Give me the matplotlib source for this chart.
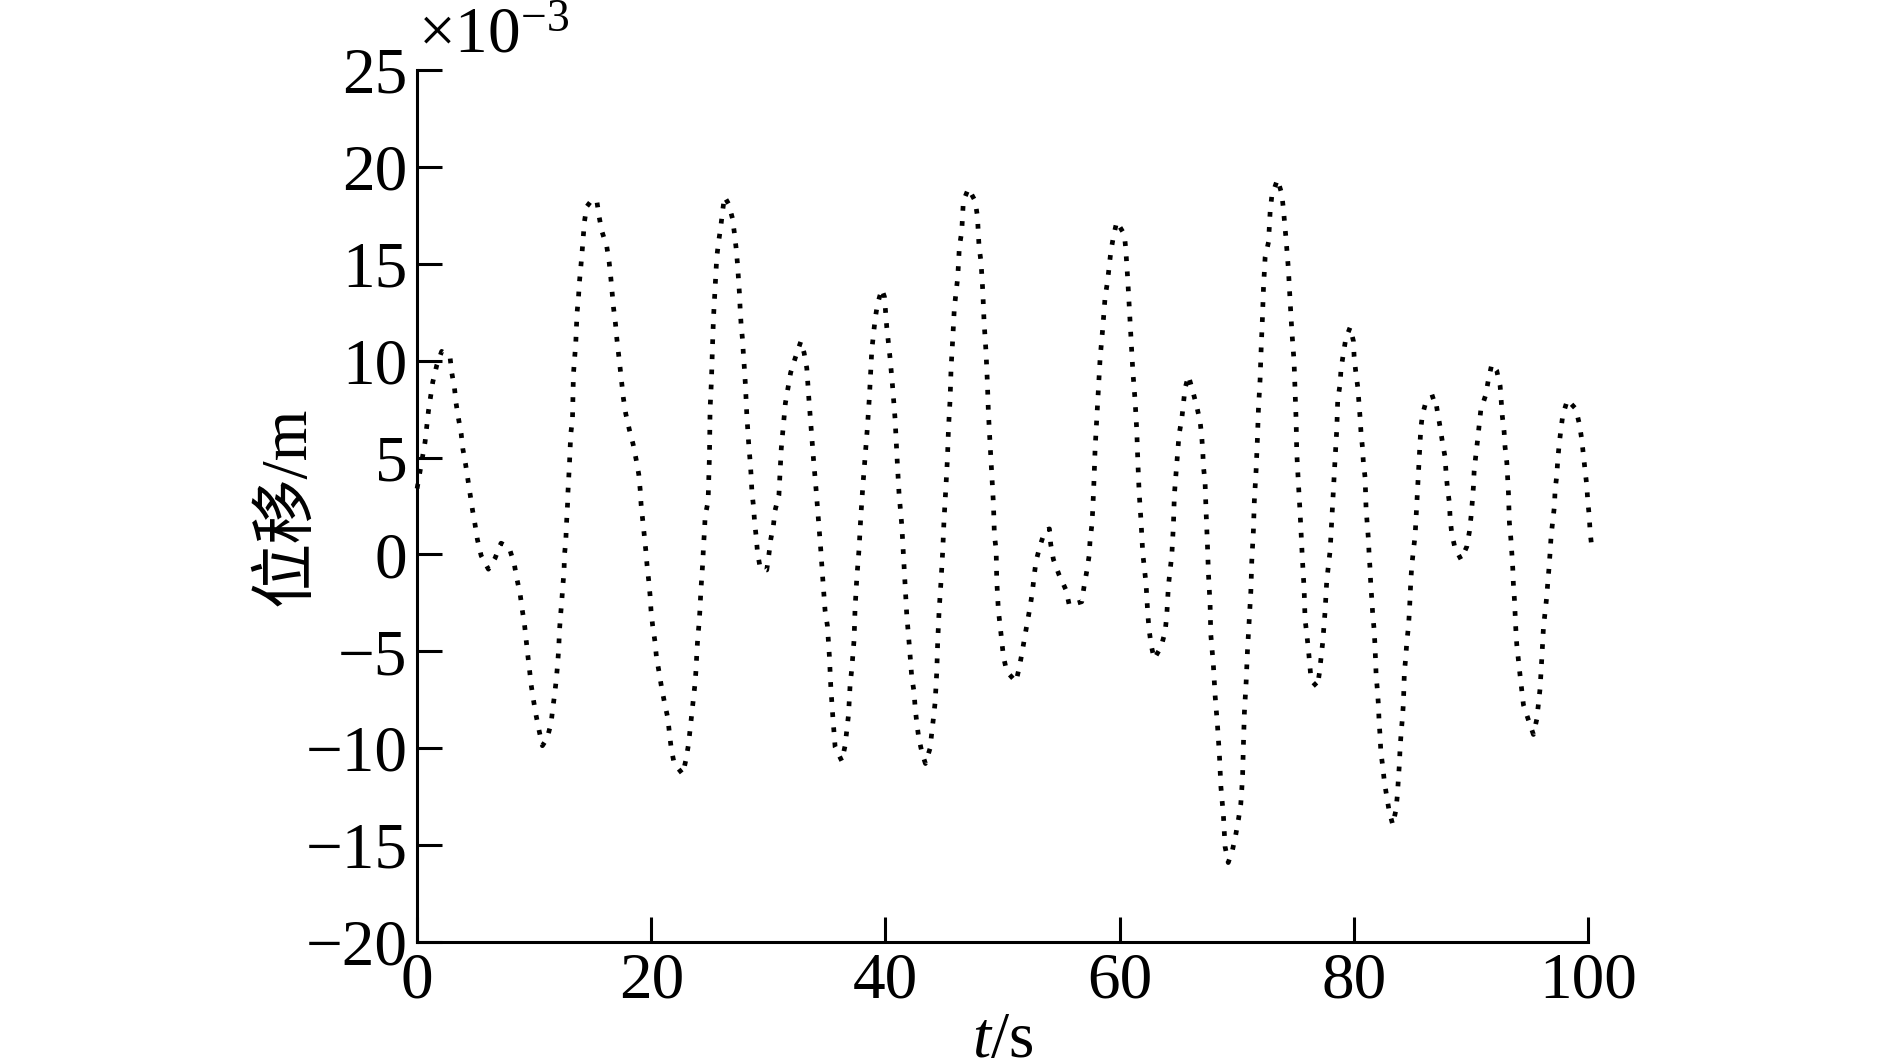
import numpy as np
import matplotlib
matplotlib.use("Agg")
import matplotlib.pyplot as plt

plt.rcParams['font.family'] = ['Liberation Serif', 'Noto Sans CJK SC']
plt.rcParams['mathtext.fontset'] = 'custom'
plt.rcParams['mathtext.rm'] = 'Liberation Serif'
plt.rcParams['mathtext.it'] = 'Liberation Serif:italic'
plt.rcParams['axes.unicode_minus'] = True

# 时间 t/s 与 位移 (x10^-3 m)
t = [0.0, 0.68, 0.97, 1.34, 1.68, 2.1, 2.82, 2.96, 3.19, 3.33, 3.53, 3.76, 3.9, 4.13, 4.33,
     4.53, 4.73, 4.95, 5.15, 5.47, 6.09, 6.66, 7.17, 7.86, 8.29, 8.51, 8.8, 8.97, 9.17, 9.31,
     9.45, 9.6, 9.74, 9.94, 10.16, 10.42, 10.7, 11.1, 11.44, 11.59, 11.76, 11.9, 12.01, 12.1,
     12.15, 12.24, 12.35, 12.44, 12.55, 12.58, 12.7, 12.75, 12.85, 12.87, 13.01, 13.12, 13.27,
     13.35, 13.55, 13.66, 13.78, 13.86, 13.98, 14.09, 14.29, 14.49, 14.91, 15.34, 15.54, 15.77,
     16.2, 16.4, 16.54, 16.77, 16.94, 17.05, 17.2, 17.34, 17.48, 17.62, 17.82, 18.11, 18.45,
     18.7, 18.93, 19.05, 19.13, 19.27, 19.4, 19.53, 19.64, 19.78, 19.9, 19.98, 20.12, 20.32,
     20.44, 20.67, 20.87, 21.13, 21.41, 21.55, 21.7, 21.95, 22.69, 22.98, 23.18, 23.32, 23.46,
     23.6, 23.74, 23.83, 23.89, 23.97, 24.09, 24.17, 24.23, 24.32, 24.4, 24.46, 24.54, 24.6,
     24.85, 24.97, 25.02, 25.14, 25.22, 25.31, 25.45, 25.59, 25.74, 25.93, 26.08, 26.25, 26.59,
     26.93, 27.1, 27.24, 27.36, 27.45, 27.53, 27.59, 27.67, 27.79, 27.87, 27.96, 28.04, 28.1,
     28.16, 28.24, 28.33, 28.44, 28.53, 28.59, 28.73, 28.82, 28.96, 29.07, 29.3, 29.86, 30.04,
     30.2, 30.43, 30.57, 30.9, 31.1, 31.45, 31.9, 32.3, 32.77, 33.05, 33.28, 33.45, 33.65,
     33.85, 34.07, 34.27, 34.47, 34.65, 34.84, 35.04, 35.21, 35.33, 35.5, 35.7, 36.27, 36.55,
     36.84, 36.98, 37.12, 37.32, 37.4, 37.55, 37.75, 37.89, 38.06, 38.26, 38.46, 38.63, 38.83,
     39.11, 39.31, 39.68, 39.91, 40.11, 40.39, 40.62, 40.82, 41.02, 41.16, 41.39, 41.53, 41.67,
     41.82, 42.04, 42.24, 42.44, 42.53, 42.67, 42.84, 43.13, 43.41, 43.81, 43.95, 44.1, 44.24,
     44.38, 44.46, 44.58, 44.75, 44.89, 45.0, 45.15, 45.29, 45.38, 45.52, 45.6, 45.75, 45.88,
     46.17, 46.31, 46.51, 46.65, 47.08, 47.65, 47.85, 47.99, 48.16, 48.31, 48.42, 48.59, 48.7,
     48.79, 48.93, 49.08, 49.22, 49.3, 49.45, 49.5, 49.64, 49.79, 49.93, 50.07, 50.36, 51.15,
     51.44, 51.67, 51.89, 52.12, 52.35, 52.55, 52.69, 52.86, 53.2, 53.63, 54.0, 54.11, 54.34,
     54.82, 55.42, 55.7, 56.76, 56.96, 57.19, 57.39, 57.47, 57.62, 57.7, 57.81, 57.9, 58.04,
     58.18, 58.33, 58.56, 58.75, 58.95, 59.1, 59.24, 59.46, 59.75, 60.4, 60.52, 60.69, 60.83,
     60.97, 61.12, 61.32, 61.46, 61.55, 61.66, 61.83, 61.97, 62.11, 62.25, 62.4, 62.51, 62.68,
     62.94, 63.53, 63.88, 64.02, 64.16, 64.3, 64.45, 64.59, 64.67, 64.87, 65.07, 65.3, 65.44,
     65.58, 65.87, 66.24, 66.58, 66.87, 67.01, 67.1, 67.15, 67.29, 67.38, 67.49, 67.58, 67.72,
     67.78, 68.0, 68.15, 68.35, 68.52, 68.64, 68.86, 69.0, 69.27, 69.63, 69.91, 70.14, 70.34,
     70.43, 70.5, 70.57, 70.65, 70.8, 70.91, 71.05, 71.2, 71.28, 71.42, 71.5, 71.65, 71.76,
     71.85, 71.99, 72.08, 72.19, 72.28, 72.42, 72.71, 72.85, 72.99, 73.47, 73.84, 73.98, 74.21,
     74.41, 74.55, 74.7, 74.89, 74.98, 75.07, 75.12, 75.26, 75.41, 75.6, 75.75, 75.83, 75.98,
     76.12, 76.35, 76.88, 77.06, 77.34, 77.54, 77.68, 77.82, 77.97, 78.11, 78.25, 78.39, 78.54,
     78.62, 78.82, 78.9, 79.1, 79.31, 79.68, 79.96, 80.02, 80.16, 80.33, 80.53, 80.61, 80.73,
     80.81, 80.96, 81.04, 81.24, 81.3, 81.38, 81.44, 81.53, 81.61, 81.73, 81.8, 81.9, 82.01,
     82.1, 82.15, 82.24, 82.3, 82.47, 82.61, 82.81, 83.01, 83.32, 83.6, 83.72, 83.8, 83.89,
     83.94, 84.03, 84.14, 84.23, 84.31, 84.43, 84.52, 84.66, 84.74, 84.8, 84.86, 84.94, 85.08,
     85.23, 85.37, 85.51, 85.65, 85.71, 85.85, 86.22, 86.93, 87.13, 87.36, 87.56, 87.79, 87.87,
     87.99, 88.16, 88.22, 88.36, 88.64, 89.15, 89.64, 89.87, 90.01, 90.12, 90.21, 90.27, 90.41,
     90.56, 90.7, 90.84, 91.27, 91.49, 91.78, 92.2, 92.49, 92.68, 92.83, 92.91, 93.06, 93.2,
     93.28, 93.4, 93.49, 93.57, 93.62, 93.71, 93.83, 93.91, 94.05, 94.19, 94.34, 94.48, 94.91,
     95.33, 95.62, 95.76, 95.9, 96.05, 96.19, 96.33, 96.47, 96.56, 96.67, 96.76, 96.84, 96.98,
     97.13, 97.18, 97.33, 97.41, 97.52, 97.67, 97.84, 98.24, 98.95, 99.26, 99.46, 99.6, 99.74,
     99.89, 99.97, 100.1, 100.17, 100.3]

disp = [3.4, 5.8, 7.4, 8.9, 9.76, 10.48, 10.15, 9.38, 8.6, 7.8, 7.03, 6.25, 5.47, 4.7, 3.9,
        3.1, 2.3, 1.54, 0.77, -0.06, -0.76, -0.19, 0.58, 0.35, -0.47, -1.22, -2.05, -2.82, -3.6,
        -4.39, -5.18, -5.95, -6.73, -7.52, -8.3, -9.09, -9.87, -9.5, -8.72, -7.93, -7.16, -6.37,
        -5.59, -4.8, -4.02, -3.23, -2.45, -1.66, -0.88, -0.06, 0.7, 1.47, 2.6, 3.07, 4.64, 6.2,
        6.98, 9.3, 10.9, 12.47, 13.24, 14.04, 14.82, 15.6, 17.17, 17.95, 18.28, 18.28, 17.45,
        16.7, 15.88, 15.09, 14.3, 12.75, 11.92, 11.18, 10.39, 9.61, 8.82, 8.05, 7.26, 6.48, 5.68,
        4.92, 4.13, 3.35, 2.57, 1.78, 1.0, 0.22, -0.57, -1.35, -2.14, -2.92, -3.7, -4.52, -5.3,
        -6.09, -6.84, -7.65, -8.44, -9.22, -10.0, -10.78, -11.34, -10.53, -9.79, -9.0, -8.2,
        -7.42, -6.64, -5.86, -5.07, -4.29, -3.5, -2.69, -1.9, -1.13, -0.37, 0.45, 1.2, 1.97,
        2.74, 5.15, 7.5, 9.03, 10.63, 12.2, 13.76, 15.33, 16.1, 16.89, 17.67, 18.46, 18.1, 17.35,
        16.57, 15.83, 15.0, 14.22, 13.45, 12.66, 11.87, 11.09, 10.3, 9.52, 8.73, 7.96, 7.17,
        6.39, 5.6, 4.82, 4.03, 3.26, 2.47, 1.69, 0.9, 0.1, -0.7, -0.8, -0.02, 0.77, 1.5, 2.27,
        3.07, 5.47, 7.8, 9.38, 10.15, 10.99, 10.4, 9.61, 8.09, 6.51, 4.93, 3.37, 1.8, 0.27,
        -1.31, -2.89, -3.68, -5.26, -6.84, -8.36, -9.94, -10.66, -9.87, -8.29, -6.71, -5.92,
        -4.39, -2.81, -1.23, 0.35, 1.93, 3.48, 5.06, 6.59, 8.17, 10.54, 12.12, 12.9, 13.69, 13.3,
        11.72, 10.14, 8.56, 6.98, 4.61, 3.11, 1.53, 0.0, -1.57, -3.15, -4.73, -6.31, -7.1, -7.89,
        -8.68, -9.47, -10.26, -10.79, -10.0, -9.21, -8.42, -7.63, -6.05, -4.47, -2.89, -1.31,
        0.22, 1.8, 3.37, 4.95, 6.51, 8.03, 9.61, 11.2, 12.72, 14.3, 15.88, 16.65, 18.23, 18.88,
        18.25, 17.46, 15.88, 15.09, 13.57, 11.99, 10.4, 8.88, 7.3, 5.72, 4.14, 2.59, 1.01, 0.22,
        -1.31, -2.89, -3.68, -4.47, -5.26, -6.05, -6.57, -5.78, -5.05, -4.26, -3.47, -2.7, -1.91,
        -1.12, -0.34, 0.45, 1.24, 1.32, 0.53, -0.26, -1.05, -1.84, -2.63, -2.44, -1.65, -0.86,
        -0.07, 0.72, 1.5, 2.3, 3.87, 5.45, 6.98, 8.56, 10.14, 11.72, 13.25, 14.04, 14.83, 15.62,
        16.38, 17.17, 16.51, 15.75, 14.17, 12.64, 11.06, 9.48, 7.9, 6.38, 4.8, 3.22, 1.64, 0.06,
        -0.71, -1.5, -3.08, -3.87, -4.65, -5.39, -4.78, -3.99, -3.15, -1.63, -0.84, -0.05, 1.53,
        3.09, 4.66, 6.19, 6.98, 7.77, 8.56, 9.22, 8.43, 7.64, 6.85, 6.06, 5.27, 4.54, 3.75, 2.17,
        0.58, -1.0, -2.57, -4.13, -5.71, -7.29, -8.81, -10.39, -11.97, -13.5, -15.08, -15.9,
        -15.26, -14.47, -13.68, -12.89, -12.1, -11.32, -9.74, -8.15, -6.57, -5.0, -3.47, -1.91,
        -0.34, 1.24, 2.77, 4.35, 5.93, 7.51, 9.03, 10.61, 12.19, 13.75, 15.33, 16.12, 17.7,
        18.49, 19.35, 18.62, 17.83, 16.25, 14.7, 13.12, 11.54, 9.96, 8.38, 6.85, 5.27, 3.69,
        2.11, -0.21, -1.79, -3.34, -4.13, -4.92, -6.5, -6.84, -6.1, -4.52, -2.94, -1.39, -0.6,
        0.19, 1.77, 3.3, 4.88, 6.46, 7.98, 8.77, 9.56, 10.35, 11.14, 11.72, 11.01, 10.22, 9.43,
        8.64, 7.06, 6.27, 5.54, 4.75, 3.95, 2.37, 0.79, 0.01, -0.73, -1.52, -2.31, -3.1, -3.89,
        -4.68, -6.23, -7.02, -7.81, -8.6, -9.39, -10.18, -10.97, -11.76, -12.5, -13.24, -13.95,
        -13.16, -12.37, -11.58, -10.79, -10.05, -9.26, -8.47, -7.68, -6.1, -5.31, -4.52, -3.73,
        -2.97, -2.18, -1.39, -0.6, 0.19, 0.98, 2.56, 4.09, 5.67, 6.46, 7.19, 8.03, 8.17, 7.38,
        6.59, 5.8, 5.01, 4.22, 3.43, 2.64, 1.85, 1.06, 0.32, -0.26, 0.4, 1.19, 1.98, 2.77, 3.51,
        4.3, 5.09, 5.88, 6.67, 7.46, 8.25, 9.03, 9.82, 9.48, 8.69, 7.11, 6.33, 5.54, 4.75, 3.16,
        1.64, 0.85, 0.06, -0.73, -1.52, -2.31, -3.86, -4.65, -5.44, -6.23, -7.02, -7.76, -8.55,
        -9.29, -8.5, -7.71, -6.92, -5.34, -3.76, -2.97, -2.18, -1.44, -0.65, 0.14, 0.93, 1.72,
        2.51, 3.3, 4.09, 4.88, 5.61, 6.4, 7.19, 7.98, 7.51, 6.72, 5.93, 5.14, 4.35, 3.56, 2.77,
        1.98, 1.19, 0.45]

xticks = [0, 20, 40, 60, 80, 100]
yticks = [-20, -15, -10, -5, 0, 5, 10, 15, 20, 25]

fig = plt.figure(figsize=(18.89, 10.6), dpi=100)
ax = fig.add_axes([0.2208, 0.1113, 0.6199, 0.8227])

ax.plot(t, disp, color='black', linewidth=3.4, linestyle=(0, (1, 2.2)), clip_on=False)

ax.set_xlim(0, 100)
ax.set_ylim(-20, 25)
ax.set_xticks(xticks)
ax.set_yticks(yticks)

for s in ['top', 'right']:
    ax.spines[s].set_visible(False)
for s in ['left', 'bottom']:
    ax.spines[s].set_linewidth(2.2)

ax.tick_params(direction='in', length=18, width=2.2, labelsize=47, pad=7)

ax.set_xlabel(r'$t$/s', fontsize=47, labelpad=0)
ax.set_ylabel('位移/m', fontsize=47, labelpad=-9)

ax.annotate(r'$\times10^{-3}$', xy=(0, 1), xycoords='axes fraction',
            xytext=(1, 13), textcoords='offset points', fontsize=47,
            ha='left', va='baseline')

fig.savefig('out.png', dpi=100)
